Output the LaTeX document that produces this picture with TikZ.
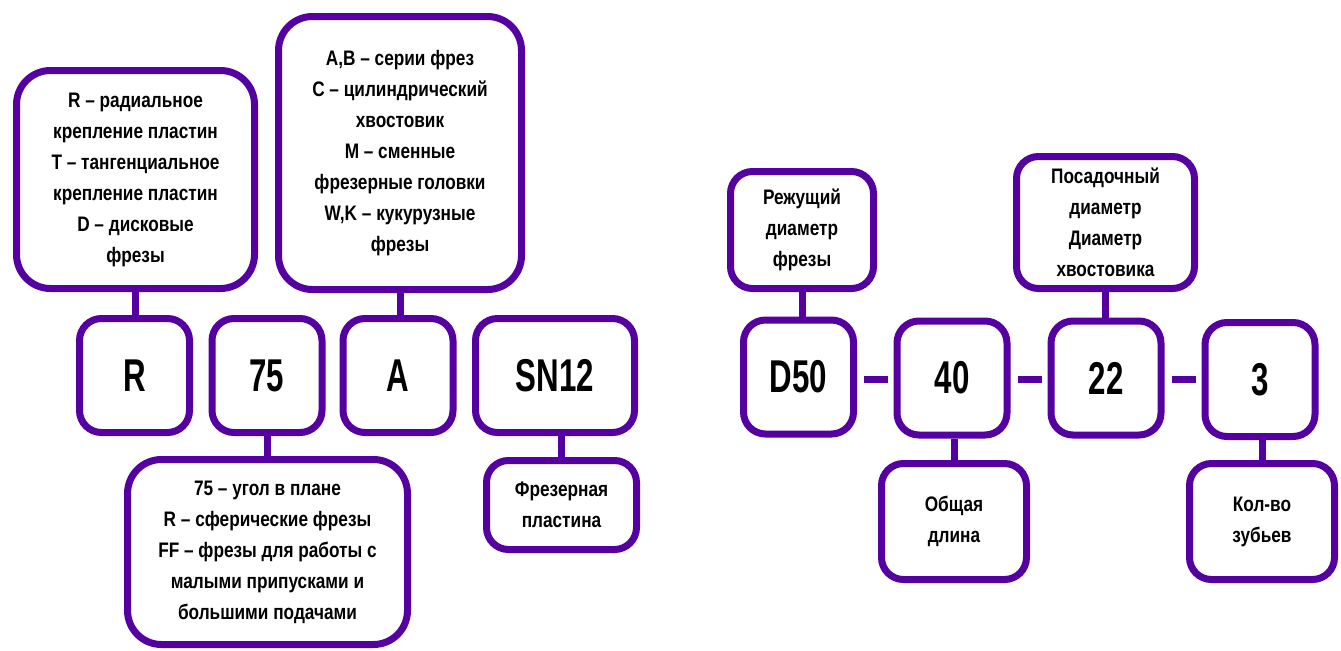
\documentclass[tikz,border=0pt]{standalone}
\usepackage{fontspec}
\setmainfont[FakeStretch=0.82]{Liberation Sans}
\newfontfamily\codefont[FakeStretch=0.68]{Liberation Sans}
\usetikzlibrary{positioning}
\definecolor{frame}{HTML}{5500A0}

\begin{document}
\begin{tikzpicture}[x=0.5pt, y=-0.5pt,
  code/.style={draw=frame, line width=3.5pt, rounded corners=11pt, fill=white,
               minimum width=55pt, minimum height=57pt, inner sep=0pt,
               font=\codefont\fontsize{23}{26}\selectfont\bfseries},
  note/.style={draw=frame, line width=3.5pt, rounded corners=11pt, fill=white,
               align=center, inner sep=0pt,
               font=\fontsize{10.5}{15.5}\selectfont\bfseries},
  bignote/.style={note, rounded corners=17pt},
  link/.style={draw=frame, line width=3.5pt}
]
\useasboundingbox (0,0) rectangle (1341,650);

\node[code] (r)    at (134.5,375.5) {R};
\node[code] (f75)  at (267,375.5)   {75};
\node[code] (a)    at (398,375.5)   {A};
\node[code, minimum width=79.5pt] (sn) at (555,375.5) {SN12};

\node[bignote, minimum width=119pt, minimum height=109pt] (rnote) at (135.5,179.5)
  {R – радиальное\\крепление пластин\\T – тангенциальное\\крепление пластин\\D – дисковые\\фрезы};
\node[bignote, minimum width=121.5pt, minimum height=136.5pt] (anote) at (400,153)
  {A,B – серии фрез\\C – цилиндрический\\хвостовик\\M – сменные\\фрезерные головки\\W,K – кукурузные\\фрезы};
\node[bignote, minimum width=140pt, minimum height=92.5pt] (fnote) at (267.5,552)
  {75 – угол в плане\\R – сферические фрезы\\FF – фрезы для работы с\\малыми припусками и\\большими подачами};
\node[note, minimum width=75pt, minimum height=44.5pt] (snote) at (561.5,505)
  {Фрезерная\\пластина};

\node[code] (d50) at (798.5,377) {D50};
\node[code] (l40) at (952,378)   {40};
\node[code] (s22) at (1106,378)  {22};
\node[code] (z3)  at (1260,379.5) {3};

\node[note, minimum width=71.5pt, minimum height=58.5pt] (dnote) at (802,230)
  {Режущий\\диаметр\\фрезы};
\node[note, minimum width=89pt, minimum height=66pt] (snote2) at (1105.5,222.5)
  {Посадочный\\диаметр\\Диаметр\\хвостовика};
\node[note, minimum width=72.5pt, minimum height=58pt] (lnote) at (954,521.5)
  {Общая\\длина};
\node[note, minimum width=72.5pt, minimum height=58pt] (znote) at (1262,521.5)
  {Кол-во\\зубьев};

\foreach \n/\c in {rnote/r, anote/a, dnote/d50, snote2/s22}
  \draw[link] (\n.south) -- (\n.south |- \c.north);
\foreach \c/\n in {f75/fnote, sn/snote, l40/lnote, z3/znote}
  \draw[link] (\n.north) -- (\n.north |- \c.south);
\foreach \x/\y in {d50/l40, l40/s22, s22/z3}
  \draw[link] ([xshift=3.5pt]\x.east |- 0,379) -- ([xshift=-3pt]\y.west |- 0,379);
\end{tikzpicture}
\end{document}
